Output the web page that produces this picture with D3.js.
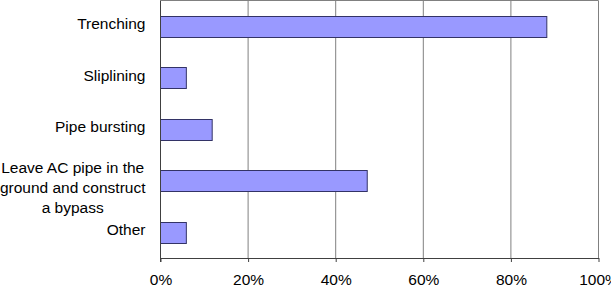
<!DOCTYPE html>
<html>
<head>
<meta charset="utf-8">
<script src="https://cdn.jsdelivr.net/npm/d3@7"></script>
<style>
  body { margin: 0; background: #fff; }
  svg { display: block; font-family: "Liberation Sans", Arial, sans-serif; }
</style>
</head>
<body>
<svg width="611" height="292"></svg>
<script>
const categories = ["Trenching", "Sliplining", "Pipe bursting", "Leave AC pipe in the ground and construct a bypass", "Other"];
const labelLines = [["Trenching"], ["Sliplining"], ["Pipe bursting"], ["Leave AC pipe in the", "ground and construct", "a bypass"], ["Other"]];
const values = [88.2, 5.9, 11.8, 47.2, 5.9];
const tickValues = [0, 20, 40, 60, 80, 100];

const margin = { top: 0.5, right: 12.5, bottom: 34, left: 160.5 };
const width = 611, height = 292;
const fontSize = 15.5;
const labelRight = 145.5;

const svg = d3.select("svg");

const x = d3.scaleLinear().domain([0, 100]).range([margin.left, width - margin.right]);
const y = d3.scaleBand().domain(categories).range([margin.top, height - margin.bottom]).paddingInner(0.59).paddingOuter(0.295);

// gridlines
svg.append("g")
  .selectAll("line")
  .data(tickValues.slice(1))
  .enter()
  .append("line")
  .attr("x1", d => x(d)).attr("x2", d => x(d))
  .attr("y1", margin.top).attr("y2", height - margin.bottom)
  .attr("stroke", "#808080")
  .attr("stroke-width", 1);

// top border
svg.append("line")
  .attr("x1", margin.left).attr("x2", width - margin.right)
  .attr("y1", margin.top).attr("y2", margin.top)
  .attr("stroke", "#808080");

// bars
svg.append("g")
  .selectAll("rect")
  .data(values)
  .enter()
  .append("rect")
  .attr("x", x(0))
  .attr("y", (d, i) => Math.round(y(categories[i])) + 0.5)
  .attr("width", d => x(d) - x(0))
  .attr("height", Math.round(y.bandwidth()))
  .attr("fill", "#9999ff")
  .attr("stroke", "#333366")
  .attr("stroke-width", 1);

// left axis line
svg.append("line")
  .attr("x1", margin.left).attr("x2", margin.left)
  .attr("y1", margin.top).attr("y2", height - margin.bottom + 4)
  .attr("stroke", "#404040");

// bottom axis
const xAxis = d3.axisBottom(x)
  .tickValues(tickValues)
  .tickFormat(d => d + "%")
  .tickSize(4)
  .tickSizeOuter(0)
  .tickPadding(12);

const gx = svg.append("g")
  .attr("transform", "translate(0," + (height - margin.bottom) + ")")
  .call(xAxis);
gx.select(".domain").attr("stroke", "#404040");
gx.selectAll(".tick line").attr("stroke", "#404040");
gx.selectAll("text").attr("font-size", fontSize).attr("fill", "#000")
  .attr("font-family", "Liberation Sans, Arial, sans-serif");

// category labels (wrapped lines centred, block right-aligned)
const lab = svg.append("g")
  .selectAll("g")
  .data(labelLines)
  .enter()
  .append("g")
  .attr("transform", (d, i) => "translate(0," + (y(categories[i]) + y.bandwidth() / 2) + ")");

lab.each(function (lines) {
  const g = d3.select(this);
  const n = lines.length;
  const texts = g.selectAll("text")
    .data(lines)
    .enter()
    .append("text")
    .attr("font-size", fontSize)
    .attr("fill", "#000")
    .attr("text-anchor", "middle")
    .attr("y", (t, j) => 3 + (j - (n - 1) / 2) * 20 + (n - 1) * 4.5)
    .text(t => t);
  let maxW = 0;
  texts.each(function () { maxW = Math.max(maxW, this.getComputedTextLength()); });
  texts.attr("x", labelRight - maxW / 2);
});
</script>
</body>
</html>
